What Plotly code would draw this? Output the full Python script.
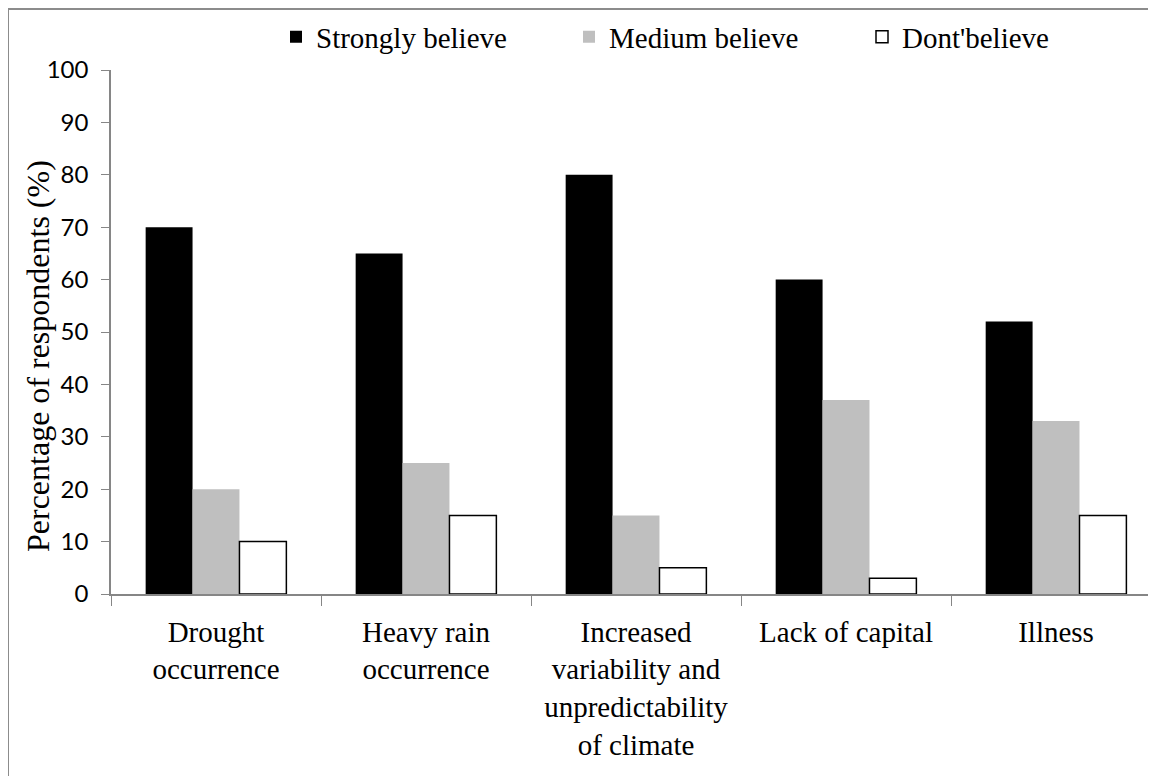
import plotly.graph_objects as go

categories = [
    "Drought<br>occurrence",
    "Heavy rain<br>occurrence",
    "Increased<br>variability and<br>unpredictability<br>of climate",
    "Lack of capital",
    "Illness",
]
strongly = [70, 65, 80, 60, 52]
medium = [20, 25, 15, 37, 33]
dont = [10, 15, 5, 3, 15]

SERIF = "Liberation Serif"
SANS = "Lato"
AXIS = "#868686"

fig = go.Figure()
fig.add_bar(x=categories, y=strongly, name="Strongly believe",
            marker=dict(color="#000000", line=dict(width=0)))
fig.add_bar(x=categories, y=medium, name="Medium believe",
            marker=dict(color="#BFBFBF", line=dict(width=0)))
fig.add_bar(x=categories, y=dont, name="Dont'believe",
            marker=dict(color="#FFFFFF", line=dict(color="#000000", width=1.5)))

# page body adds an 8px offset, so everything is placed 8px up/left
W, H = 1156, 776
L, T, R, B = 103, 62, 8, 190
pw, ph = W - L - R, H - T - B
fig.add_shape(type="rect", xref="paper", yref="paper",
              x0=(0 - L) / pw, x1=1.05, y0=-0.5, y1=(H - B - 1) / ph,
              line=dict(color="#8C8C8C", width=2), fillcolor="rgba(0,0,0,0)",
              layer="below")

# y axis title as an annotation (standoff is ignored without automargin)
fig.add_annotation(
    text="Percentage of respondents (%)", textangle=-90,
    xref="paper", yref="paper", x=(30 - L) / pw, y=(H - B - 348) / ph,
    xanchor="center", yanchor="middle", showarrow=False,
    font=dict(family=SERIF, size=32, color="#000000"),
)

fig.update_layout(
    width=W, height=H,
    paper_bgcolor="white", plot_bgcolor="white",
    margin=dict(l=L, r=R, t=T, b=B, autoexpand=False),
    barmode="group", bargap=0.33, bargroupgap=0,
    font=dict(family=SERIF, color="#000000", size=29),
    legend=dict(
        orientation="h", x=(268 - L) / pw, xanchor="left",
        y=(H - B - 29) / ph, yanchor="middle",
        entrywidth=248, entrywidthmode="pixels",
        font=dict(family=SERIF, size=29, color="#000000"),
        bgcolor="rgba(0,0,0,0)", itemclick=False,
    ),
    xaxis=dict(
        range=[-0.5, 4.476], showgrid=False, automargin=False,
        showline=True, linecolor=AXIS, linewidth=1.5,
        ticks="outside", tickson="boundaries", ticklen=10, tickcolor=AXIS,
        ticklabelstandoff=11,
        tickfont=dict(family=SERIF, size=29, color="#000000"),
    ),
    yaxis=dict(
        range=[0, 100], dtick=10, showgrid=False, zeroline=False,
        automargin=False,
        showline=True, linecolor=AXIS, linewidth=1.5,
        ticks="outside", ticklen=8, tickcolor=AXIS, ticklabelstandoff=8,
        tickfont=dict(family=SANS, size=24, color="#000000"),
    ),
)

fig.write_html("out.html")
